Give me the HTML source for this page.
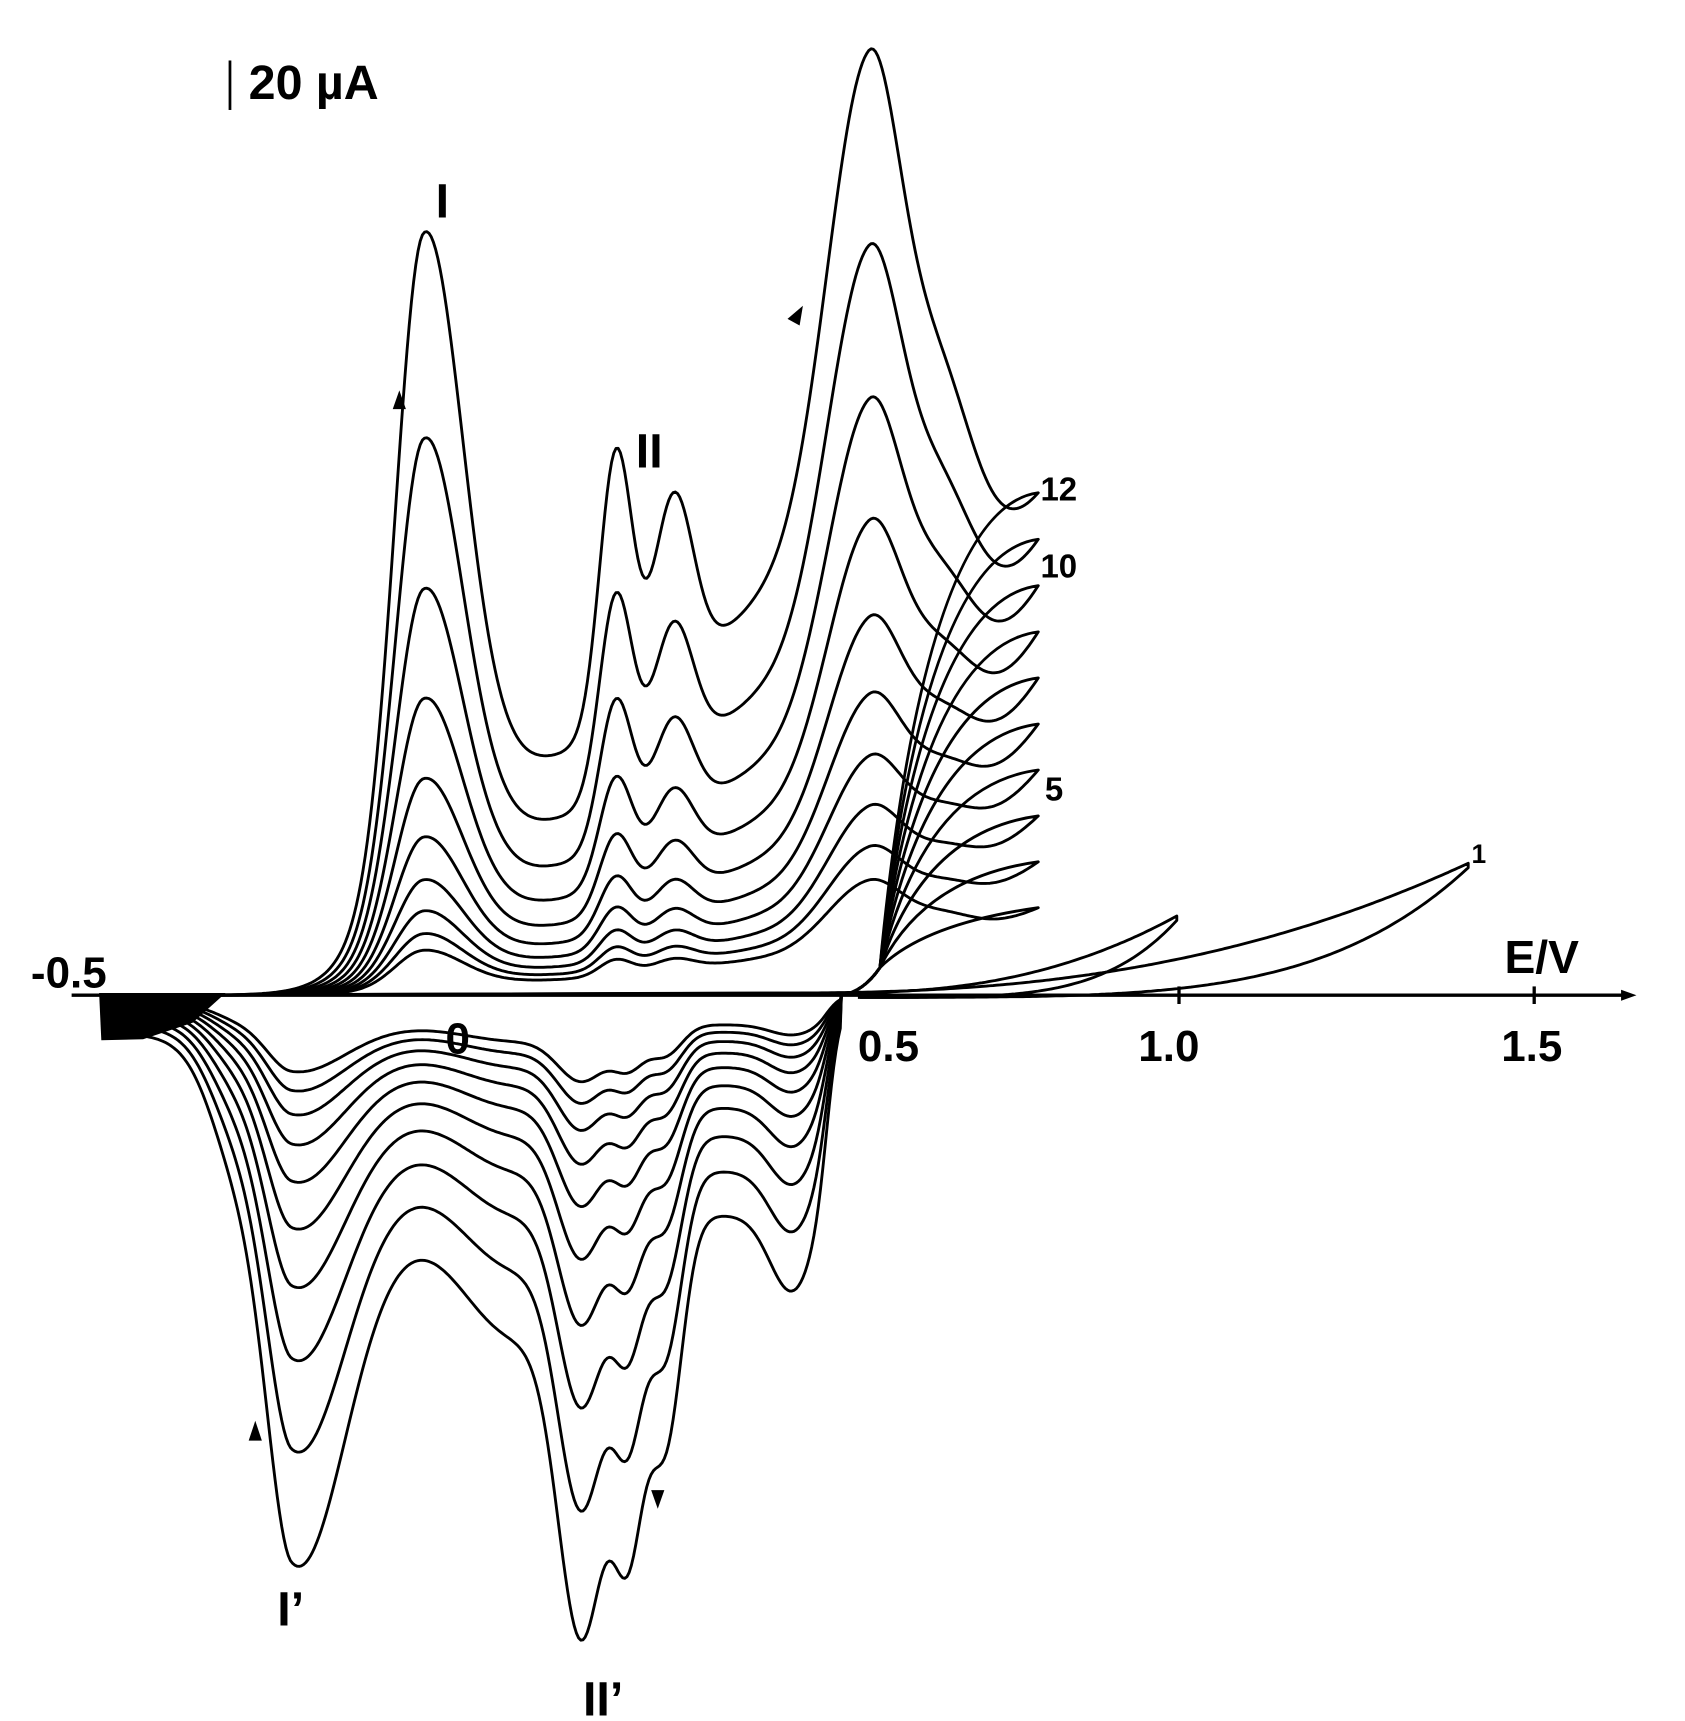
<!DOCTYPE html>
<html><head><meta charset="utf-8"><style>
html,body{margin:0;padding:0;background:#fff;}
svg{display:block;}
text{font-family:"Liberation Sans",sans-serif;font-weight:bold;fill:#000;}
</style></head><body>
<svg id="s" width="1685" height="1721" viewBox="0 0 1532 1565" xmlns="http://www.w3.org/2000/svg">
<g id="curves" fill="none" stroke="#000" stroke-width="2.6" stroke-linejoin="round"></g>
<line x1="65" y1="905" x2="1480" y2="905" stroke="#000" stroke-width="3"/>
<polygon points="1488,905 1474,900 1474,910" fill="#000"/>
<line x1="1072" y1="897" x2="1072" y2="913" stroke="#000" stroke-width="3"/>
<line x1="1395" y1="897" x2="1395" y2="913" stroke="#000" stroke-width="3"/>
<polygon points="90,903 205,903 175,930 130,945 92,946" fill="#000"/>
<line x1="209" y1="55" x2="209" y2="100" stroke="#000" stroke-width="2.5"/>
<text x="226" y="90" font-size="44">20 µA</text>
<text x="396" y="198" font-size="44">I</text>
<text x="578" y="425" font-size="44">II</text>
<text x="28" y="898" font-size="40">-0.5</text>
<text x="405" y="958" font-size="40">0</text>
<text x="780" y="965" font-size="40">0.5</text>
<text x="1035" y="965" font-size="40">1.0</text>
<text x="1365" y="965" font-size="40">1.5</text>
<text x="1368" y="885" font-size="42">E/V</text>
<text x="946" y="455" font-size="30" font-weight="normal">12</text>
<text x="946" y="525" font-size="30" font-weight="normal">10</text>
<text x="950" y="728" font-size="30" font-weight="normal">5</text>
<text x="1338" y="785" font-size="24" font-weight="normal">1</text>
<text x="252" y="1478" font-size="44">I’</text>
<text x="530" y="1560" font-size="44">II’</text>
<polygon points="363,355 357,372 369,372" fill="#000"/>
<polygon points="730,278 716,290 727,296" fill="#000"/>
<polygon points="232,1292 226,1310 238,1310" fill="#000"/>
<polygon points="598,1372 592,1355 604,1355" fill="#000"/>
</svg>
<script>
(function(){
var g=document.getElementById('curves');
function G(x,c,a,s){return a*Math.exp(-(x-c)*(x-c)/(2*s*s));}
function sig(z){return 1/(1+Math.exp(-z));}
function core(n,x){
 var a=Math.pow(0.73,12-n), b=Math.pow(0.8,12-n);
 return a*(200*sig((x-345)/22)+G(x,385,520,x<385?25:35)+G(x,560,250,15)+G(x,612,170,18))
  + b*(G(x,790,460,x<790?38:30)+G(x,740,170,110)+G(x,855,160,30));
}
function D(n,x){
 var d=Math.pow(0.8,12-n);
 var r=sig((752-x)/6);
 return d*(r*(35+165*sig((x-195)/15)) + G(x,470,110,50)+G(x,310,70,40)+G(x,265,280,x<265?22:40)+G(x,530,330,22)+G(x,572,240,14)+G(x,605,200,15)+G(x,720,70,20));
}
function add(d){var p=document.createElementNS('http://www.w3.org/2000/svg','path');p.setAttribute('d',d);g.appendChild(p);}
for(var n=3;n<=12;n++){
 var T=80+(n-3)*42;
 var c=T-core(n,945);
 var d='M95,905';
 for(var x=96;x<=945;x+=2){
  var r=x>700?Math.pow((x-700)/245,2):0;
  var h=core(n,x)+c*r;
  d+=' L'+x+','+(905-h).toFixed(1);
 }
 var yE=905-T;
 d+=' Q840,'+(yE+15)+' 800,880 Q785,902 765,905';
 for(var x=764;x>=95;x-=2){
  d+=' L'+x+','+(905+D(n,x)).toFixed(1);
 }
 d+=' L95,905';
 add(d);
}
var d1='M95,905 L700,903';
for(var x=702;x<=1335;x+=3){var t=(x-700)/635;d1+=' L'+x+','+(903-118*Math.pow(t,2.5)).toFixed(1);}
for(var x=1335;x>=780;x-=3){var t=(x-700)/635;d1+=' L'+x+','+(907-118*Math.pow(t,5)).toFixed(1);}
add(d1);
var d2='M95,905 L750,903';
for(var x=752;x<=1070;x+=3){var t=(x-750)/320;d2+=' L'+x+','+(903-70*Math.pow(t,2.5)).toFixed(1);}
for(var x=1070;x>=780;x-=3){var t=(x-750)/320;d2+=' L'+x+','+(907-70*Math.pow(t,5)).toFixed(1);}
add(d2);
})();
</script>
</body></html>
